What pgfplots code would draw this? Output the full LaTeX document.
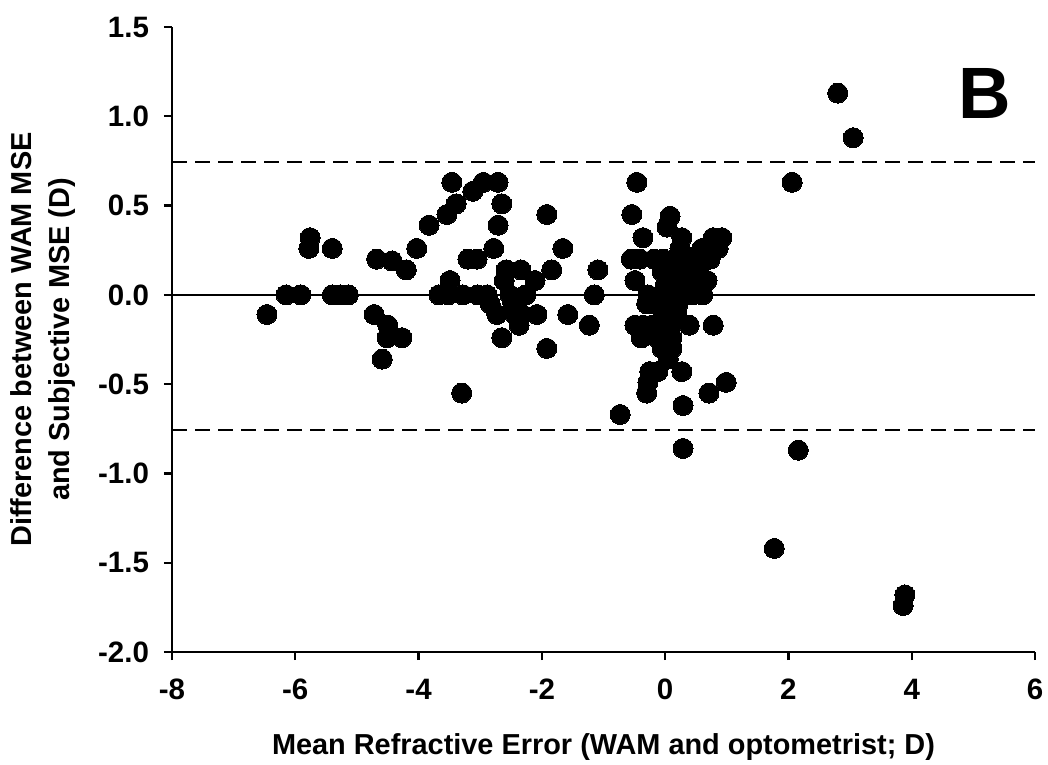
\documentclass[border=0pt]{standalone}
\usepackage{pgfplots}
\pgfplotsset{compat=1.18}
\usepackage{fontspec}
\setmainfont{Liberation Sans}
\usetikzlibrary{calc}
\begin{document}
\begin{tikzpicture}
\begin{axis}[
  scale only axis,
  width=431.5bp, height=312.5bp,
  xmin=-8, xmax=6, ymin=-2, ymax=1.5,
  axis x line=bottom, axis y line=left,
  axis line style={-, line width=1.2bp},
  tick align=outside, major tick length=4bp,
  tick style={line width=1.2bp, black},
  xtick={-8,-6,...,6}, ytick={-2,-1.5,...,1.5},
  /pgf/number format/assume math mode=true,
  yticklabel style={/pgf/number format/fixed, /pgf/number format/fixed zerofill, /pgf/number format/precision=1, font=\bfseries\fontsize{14.8}{16}\selectfont, xshift=-4bp},
  xticklabel style={font=\bfseries\fontsize{14.8}{16}\selectfont, yshift=-6bp},
  xlabel={Mean Refractive Error (WAM and optometrist; D)},
  xlabel style={at={(axis description cs:0.5,0)}, anchor=center, yshift=-47.5bp, font=\bfseries\fontsize{14.5}{16}\selectfont},
  clip=false,
]
\coordinate (bl) at (rel axis cs:0,0);
\addplot[black, line width=0.9bp, forget plot] coordinates {(-8,0) (6,0)};
\addplot[black, line width=0.9bp, dash pattern=on 7.5bp off 4bp, forget plot] coordinates {(-8,0.745) (6,0.745)};
\addplot[black, line width=0.9bp, dash pattern=on 7.5bp off 4bp, forget plot] coordinates {(-8,-0.755) (6,-0.755)};
\addplot[only marks, mark=*, mark size=5bp, mark options={fill=black, draw=black, line width=0pt}] coordinates {
(-6.46,-0.11) (-6.15,0) (-5.91,0) (-5.78,0.26) (-5.76,0.32) (-5.40,0.26)
(-5.40,0) (-5.27,0) (-5.14,0) (-4.68,0.20) (-4.43,0.19) (-4.20,0.14)
(-4.03,0.26) (-3.83,0.39) (-3.54,0.45) (-3.46,0.63) (-3.39,0.51) (-3.12,0.58)
(-2.95,0.63) (-2.71,0.63) (-2.65,0.51) (-2.71,0.39) (-2.78,0.26) (-3.20,0.20)
(-3.05,0.20) (-3.49,0.08) (-3.67,0) (-3.52,0) (-3.28,0) (-3.04,0) (-2.89,0)
(-4.72,-0.11) (-4.50,-0.17) (-4.51,-0.24) (-4.27,-0.24) (-4.59,-0.36)
(-2.84,-0.05) (-2.73,-0.11) (-2.65,-0.24) (-2.58,0.14) (-2.61,0.08)
(-2.34,0.14) (-2.11,0.08) (-1.92,0.45) (-1.66,0.26) (-1.84,0.14) (-1.09,0.14)
(-1.15,0) (-2.52,0) (-2.26,0) (-2.47,-0.05) (-2.44,-0.11) (-2.32,-0.11)
(-2.37,-0.17) (-2.08,-0.11) (-1.58,-0.11) (-1.23,-0.17) (-1.92,-0.30)
(-3.30,-0.55) (-0.73,-0.67)
(-0.46,0.63) (-0.54,0.45) (-0.36,0.32) (-0.55,0.20) (-0.41,0.20) (-0.49,0.08)
(-0.49,-0.17) (-0.38,-0.24) (-0.25,-0.43) (-0.12,-0.43) (-0.28,-0.49) (-0.30,-0.55)
(0.08,0.44) (0.03,0.38) (0.27,0.32) (0.24,0.26) (0.78,0.32) (0.92,0.32)
(0.61,0.26) (0.86,0.26) (0.71,0.20) (-0.18,0.20) (-0.03,0.20) (-0.05,0.13)
(-0.28,0) (-0.30,-0.05) (-0.16,-0.05)
(0.19,0.21) (0.45,0.21) (0.40,0.13) (0.53,0.13) (0.19,0.13) (0.08,0.08)
(0.24,0.08) (0.35,0.08) (0.53,0.08) (0.68,0.08) (0.03,0) (0.19,0) (0.29,0)
(0.45,0) (0.61,0) (0.08,-0.05) (0.21,-0.05) (-0.03,-0.11) (0.16,-0.11)
(-0.08,-0.17) (0.08,-0.17) (-0.36,-0.17) (-0.21,-0.17) (-0.39,-0.24)
(-0.13,-0.24) (0.11,-0.24) (0.39,-0.17) (0.78,-0.17) (-0.05,-0.30)
(0.05,-0.36) (0.27,-0.43) (0.99,-0.49) (0.71,-0.55) (0.29,-0.62) (0.29,-0.86)
(0.65,0.08) (0.60,0.26) (0.73,0.20) (0.19,-0.11) (0.11,-0.30) (0.00,0.05)
(2.80,1.13) (3.05,0.88) (2.06,0.63) (2.16,-0.87) (1.77,-1.42) (3.89,-1.68) (3.86,-1.74)
};
\node[font=\bfseries\fontsize{36.5}{40}\selectfont, inner sep=0pt] at (rel axis cs:0.942,0.893) {B};
\end{axis}
\node[rotate=90, align=center, inner sep=0pt, font=\bfseries\fontsize{14.5}{19}\selectfont] at ($(bl)+(-64.5bp,156.25bp)$) {Difference between WAM MSE\\and Subjective MSE (D)};
\pgfresetboundingbox
\path ($(bl)+(-86bp,-56.5bp)$) rectangle ($(bl)+(438bp,326bp)$);
\end{tikzpicture}
\end{document}
